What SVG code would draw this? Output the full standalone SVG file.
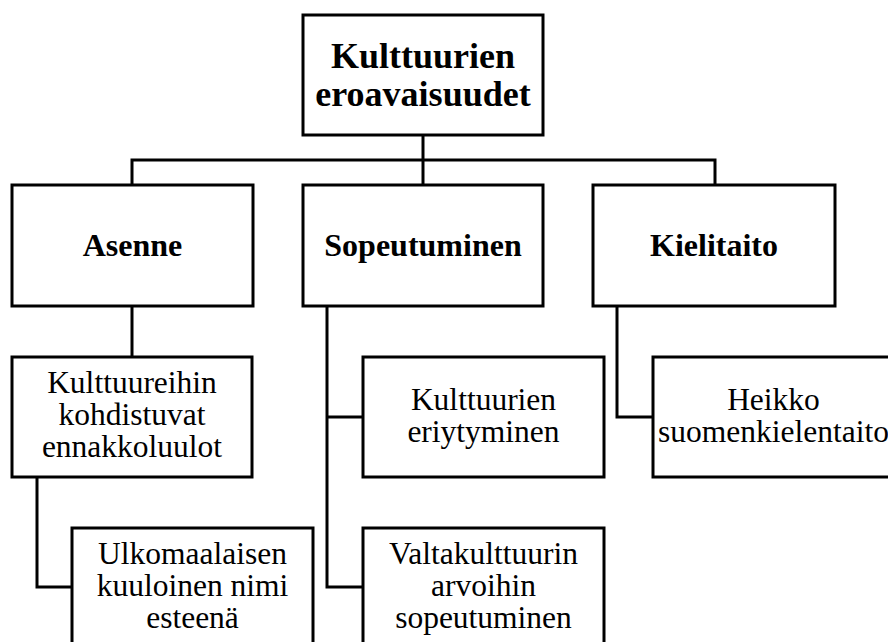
<svg xmlns="http://www.w3.org/2000/svg" width="888" height="642" viewBox="0 0 888 642">
<style>
.box{fill:#fff;stroke:#000;stroke-width:3}
.con{fill:none;stroke:#000;stroke-width:3}
text{font-family:"Times New Roman",Times,Tinos,"Liberation Serif","Noto Serif","DejaVu Serif",FreeSerif,serif;fill:#000;text-anchor:middle}
.t0{font-size:36px;font-weight:bold}
.t1{font-size:32px;font-weight:bold}
.t2{font-size:31.5px}
</style>
<rect width="888" height="642" fill="#fff"/>
<g id="connectors">
<path class="con" d="M423,135 V185"/>
<path class="con" d="M132,185 V160 H715 V185"/>
<path class="con" d="M132,306 V357"/>
<path class="con" d="M37,477 V587 H72"/>
<path class="con" d="M327,306 V587 H363"/>
<path class="con" d="M327,417 H363"/>
<path class="con" d="M617,306 V417 H653"/>
</g>
<g id="root">
<rect class="box" x="303" y="15" width="240" height="120"/>
<text class="t0" x="423" y="68">Kulttuurien</text>
<text class="t0" x="423" y="106">eroavaisuudet</text>
</g>
<g id="asenne">
<rect class="box" x="12" y="185" width="241" height="121"/>
<text class="t1" x="132.5" y="256">Asenne</text>
</g>
<g id="sopeutuminen">
<rect class="box" x="303" y="185" width="240" height="121"/>
<text class="t1" x="423" y="256">Sopeutuminen</text>
</g>
<g id="kielitaito">
<rect class="box" x="593" y="185" width="242" height="121"/>
<text class="t1" x="714" y="256">Kielitaito</text>
</g>
<g id="ennakkoluulot">
<rect class="box" x="12" y="357" width="240" height="120"/>
<text class="t2" x="132" y="393">Kulttuureihin</text>
<text class="t2" x="132" y="425">kohdistuvat</text>
<text class="t2" x="132" y="457">ennakkoluulot</text>
</g>
<g id="nimi">
<rect class="box" x="72" y="528" width="241" height="122"/>
<text class="t2" x="192.5" y="564">Ulkomaalaisen</text>
<text class="t2" x="192.5" y="596">kuuloinen nimi</text>
<text class="t2" x="192.5" y="628">esteenä</text>
</g>
<g id="eriytyminen">
<rect class="box" x="363" y="357" width="241" height="120"/>
<text class="t2" x="483.5" y="410">Kulttuurien</text>
<text class="t2" x="483.5" y="442">eriytyminen</text>
</g>
<g id="valtakulttuuri">
<rect class="box" x="363" y="528" width="241" height="122"/>
<text class="t2" x="483.5" y="564">Valtakulttuurin</text>
<text class="t2" x="483.5" y="596">arvoihin</text>
<text class="t2" x="483.5" y="628">sopeutuminen</text>
</g>
<g id="heikko">
<rect class="box" x="653" y="357" width="241" height="120"/>
<text class="t2" x="773.5" y="410">Heikko</text>
<text class="t2" x="773.5" y="442">suomenkielentaito</text>
</g>
</svg>
